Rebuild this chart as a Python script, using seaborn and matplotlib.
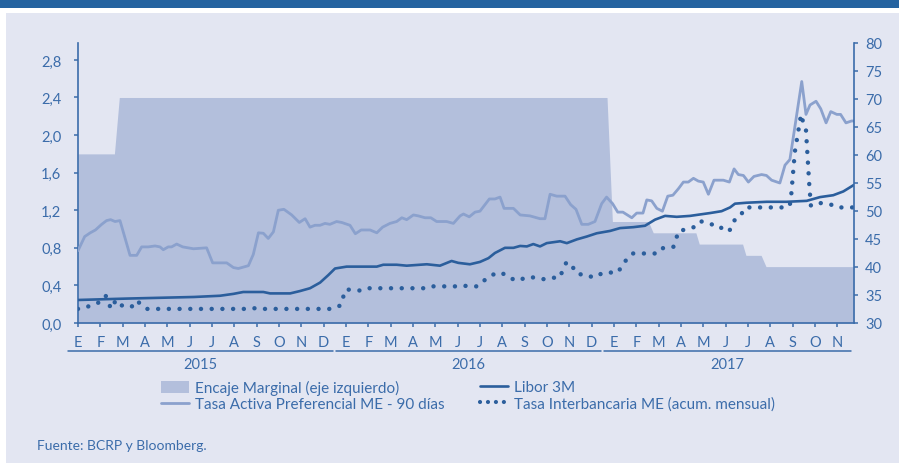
import numpy as np
import matplotlib
matplotlib.use("Agg")
import matplotlib.pyplot as plt
import matplotlib.transforms as mtransforms
from matplotlib.patches import Rectangle, Patch
from matplotlib.lines import Line2D
import seaborn as sns

# Time axis: months elapsed since 1 Jan 2015 (E 2015 = 0, E 2016 = 12, ...)
month_letters = ["E", "F", "M", "A", "M", "J", "J", "A", "S", "O", "N", "D"]
years = ["2015", "2016", "2017"]

# Encaje marginal (%), left axis
enc_m = [0, 1.63, 1.85, 23.69, 23.93, 25.54, 25.76, 27.67, 27.82, 29.76, 29.91, 30.59, 30.81, 34.75]
enc_v = [1.80, 1.80, 2.40, 2.40, 1.08, 1.08, 0.96, 0.96, 0.84, 0.84, 0.72, 0.72, 0.60, 0.60]

# Tasa activa preferencial ME - 90 dias (%)
ta_m = [0.0, 0.3, 0.55, 0.78, 1.06, 1.28, 1.46, 1.66, 1.88, 2.33, 2.63, 2.85, 3.15, 3.45, 3.67,
        3.82, 4.04, 4.19, 4.42, 4.69, 5.17, 5.76, 6.03, 6.66, 6.96, 7.18, 7.63, 7.85, 8.08, 8.30,
        8.52, 8.75, 8.97, 9.22, 9.57, 9.91, 10.17, 10.39, 10.61, 10.84, 11.06, 11.28, 11.58, 11.81,
        12.18, 12.42, 12.68, 13.08, 13.38, 13.64, 13.97, 14.27, 14.50, 14.72, 15.02, 15.24, 15.54,
        15.80, 16.06, 16.51, 16.81, 17.11, 17.26, 17.52, 17.78, 18.00, 18.42, 18.67, 18.90, 19.08,
        19.50, 19.80, 20.24, 20.69, 20.91, 21.14, 21.44, 21.81, 22.06, 22.30, 22.56, 22.85, 23.15,
        23.45, 23.67, 23.94, 24.17, 24.40, 24.80, 25.02, 25.30, 25.47, 25.69, 25.92, 26.17, 26.41,
        26.64, 26.89, 27.11, 27.33, 27.56, 27.78, 28.00, 28.23, 28.48, 28.90, 29.17, 29.38, 29.57,
        29.80, 30.02, 30.27, 30.61, 30.83, 31.06, 31.43, 31.66, 31.88, 32.41, 32.60, 32.78, 33.05,
        33.26, 33.50, 33.71, 33.98, 34.15, 34.39, 34.64, 34.75]
ta_v = [0.77, 0.92, 0.96, 0.99, 1.05, 1.09, 1.10, 1.08, 1.09, 0.72, 0.72, 0.81, 0.81, 0.82, 0.81,
        0.78, 0.81, 0.81, 0.84, 0.81, 0.79, 0.80, 0.64, 0.64, 0.59, 0.58, 0.61, 0.73, 0.96, 0.955,
        0.90, 0.97, 1.20, 1.21, 1.15, 1.07, 1.11, 1.02, 1.04, 1.04, 1.06, 1.05, 1.08, 1.07,
        1.04, 0.95, 0.99, 0.99, 0.96, 1.02, 1.06, 1.08, 1.12, 1.10, 1.15, 1.14, 1.12,
        1.12, 1.08, 1.08, 1.06, 1.14, 1.16, 1.13, 1.18, 1.19, 1.32, 1.32, 1.34, 1.22,
        1.22, 1.15, 1.14, 1.11, 1.11, 1.37, 1.35, 1.35, 1.26, 1.21, 1.05, 1.05, 1.08,
        1.27, 1.34, 1.27, 1.18, 1.18, 1.12, 1.17, 1.17, 1.31, 1.30, 1.22, 1.19, 1.35,
        1.36, 1.43, 1.50, 1.50, 1.54, 1.51, 1.50, 1.37, 1.52, 1.52, 1.50, 1.64, 1.58,
        1.57, 1.50, 1.56, 1.58, 1.57, 1.52, 1.49, 1.68, 1.74, 2.57, 2.22, 2.32, 2.36,
        2.28, 2.13, 2.25, 2.22, 2.22, 2.13, 2.15, 2.15]

# Libor 3M (%)
lb_m = [0, 2.2, 5.2, 6.36, 6.96, 7.4, 8.3, 8.6, 9.5, 9.94, 10.39, 10.84, 11.21, 11.51, 12.03,
        13.38, 13.67, 14.27, 14.72, 15.62, 16.21, 16.73, 17.03, 17.55, 18.0, 18.38, 18.67, 19.12,
        19.5, 19.8, 20.1, 20.39, 20.69, 20.99, 21.59, 21.89, 22.34, 22.78, 23.23, 23.83, 24.27,
        24.87, 25.39, 25.84, 26.29, 26.81, 27.41, 27.85, 28.3, 28.82, 29.2, 29.42, 29.94, 30.84,
        31.73, 32.63, 33.23, 33.82, 34.27, 34.75]
lb_v = [0.245, 0.26, 0.277, 0.29, 0.31, 0.33, 0.33, 0.315, 0.315, 0.34, 0.37, 0.43, 0.51, 0.58, 0.60,
        0.60, 0.62, 0.62, 0.61, 0.625, 0.61, 0.66, 0.64, 0.625, 0.65, 0.69, 0.745, 0.80,
        0.80, 0.82, 0.815, 0.84, 0.815, 0.85, 0.87, 0.85, 0.89, 0.92, 0.955, 0.98, 1.01,
        1.02, 1.035, 1.10, 1.14, 1.13, 1.14, 1.155, 1.17, 1.19, 1.23, 1.27, 1.28, 1.29,
        1.29, 1.30, 1.34, 1.36, 1.40, 1.47]

# Tasa interbancaria ME, acumulada mensual (%)
ib_m = [0.0, 0.33, 0.57, 0.79, 1.01, 1.24, 1.36, 1.48, 1.70, 1.93, 2.15, 2.39, 2.63, 2.85, 3.07,
        7.8, 7.95, 8.2, 8.35, 11.4, 11.78, 11.88, 12.0, 12.25, 12.7, 12.93, 15.7, 15.91, 17.0,
        17.2, 17.5, 17.9, 18.18, 18.42, 18.87, 19.08, 19.35, 19.76, 20.02, 20.47, 20.69, 20.96,
        21.17, 21.59, 21.71, 21.86, 22.06, 22.3, 22.56, 22.78, 23.0, 23.23, 23.45, 23.67, 23.94,
        24.2, 24.38, 24.6, 24.82, 25.98, 26.21, 26.66, 26.78, 26.89, 27.11, 27.33, 27.59, 27.81,
        28.03, 28.27, 28.48, 28.7, 28.93, 29.17, 29.38, 29.61, 29.76, 29.88, 31.8, 31.91, 32.1,
        32.38, 32.48, 32.6, 32.75, 32.82, 33.08, 33.53, 33.72, 33.98, 34.75]
ib_v = [0.15, 0.16, 0.19, 0.20, 0.23, 0.29, 0.22, 0.15, 0.245, 0.19, 0.17, 0.17, 0.24, 0.19, 0.15,
        0.15, 0.16, 0.16, 0.15, 0.15, 0.19, 0.28, 0.36, 0.35, 0.345, 0.37, 0.37, 0.39, 0.39,
        0.40, 0.39, 0.39, 0.45, 0.50, 0.54, 0.52, 0.475, 0.45, 0.485, 0.485, 0.47, 0.465,
        0.48, 0.485, 0.57, 0.64, 0.64, 0.53, 0.515, 0.515, 0.49, 0.49, 0.53, 0.53, 0.54,
        0.54, 0.63, 0.68, 0.74, 0.74, 0.80, 0.81, 0.89, 0.98, 0.99, 1.01, 1.02, 1.08,
        1.08, 1.06, 1.04, 1.04, 0.98, 0.98, 1.09, 1.12, 1.18, 1.23, 1.23, 1.28, 1.82,
        2.22, 2.13, 2.05, 1.46, 1.25, 1.28, 1.27, 1.26, 1.23, 1.23]

left_ticks = [0.0, 0.4, 0.8, 1.2, 1.6, 2.0, 2.4, 2.8]
right_ticks = [30, 35, 40, 45, 50, 55, 60, 65, 70, 75, 80]

labels = {
    "enc": "Encaje Marginal (eje izquierdo)",
    "ta": "Tasa Activa Preferencial ME - 90 días",
    "lb": "Libor 3M",
    "ib": "Tasa Interbancaria ME (acum. mensual)",
}

BG = "#e3e6f2"
TXT = "#3b6caa"
AREA = "#b3bfdc"
LIGHT = "#8ba1cd"
DARK = "#2b5e9c"
DOTS = (0, (0.01, 2.4))
LEG_DOTS = (0, (0.01, 1.9))

sns.set_theme(style="white")
plt.rcParams["font.family"] = ["Lato", "DejaVu Sans"]

W, H = 899, 464
fig = plt.figure(figsize=(W / 100, H / 100), dpi=100)
fig.patch.set_facecolor(BG)
fig.add_artist(Rectangle((0, 0), 6 / W, 1, transform=fig.transFigure, color="white", lw=0))
fig.add_artist(Rectangle((0, 1 - 14 / H), 1, 14 / H, transform=fig.transFigure, color="white", lw=0))
fig.add_artist(Rectangle((0, 1 - 9 / H), 1, 9 / H, transform=fig.transFigure, color="#2563a0", lw=0))

ax = fig.add_axes([78 / W, 1 - 324 / H, (854 - 78) / W, 280 / H])
ax.set_facecolor("none")

ax.fill_between(enc_m, 0, enc_v, color=AREA, lw=0, zorder=1)
sns.lineplot(x=ta_m, y=ta_v, ax=ax, color=LIGHT, lw=2.0, sort=False, estimator=None, zorder=3)
sns.lineplot(x=lb_m, y=lb_v, ax=ax, color=DARK, lw=1.9, sort=False, estimator=None, zorder=4)
sns.lineplot(x=ib_m, y=ib_v, ax=ax, color=DARK, lw=3.2, sort=False, estimator=None, zorder=5,
             linestyle=DOTS, dash_capstyle="round")

n_months = 35
ax.set_xlim(0, 34.75)
ax.set_ylim(0, 2.98)
ax.set_xticks(range(n_months))
ax.set_xticklabels([month_letters[i % 12] for i in range(n_months)])
ax.set_yticks(left_ticks)
ax.set_yticklabels([f"{v:.1f}".replace(".", ",") for v in left_ticks])
ax.set_xlabel("")
ax.set_ylabel("")

for side in ("top", "right"):
    ax.spines[side].set_visible(False)
for side in ("left", "bottom"):
    ax.spines[side].set_color(TXT)
    ax.spines[side].set_linewidth(1.2)
ax.tick_params(axis="y", direction="out", length=3, width=1.1, color=TXT, labelcolor=TXT,
               labelsize=10.5, pad=9, left=True)
ax.tick_params(axis="x", direction="out", length=3, width=1.1, color=TXT, labelcolor=TXT,
               labelsize=10.5, pad=5.5, bottom=True)

ax2 = ax.twinx()
ax2.set_ylim(30, 80)
ax2.set_yticks(right_ticks)
for side in ("top", "left", "bottom"):
    ax2.spines[side].set_visible(False)
ax2.spines["right"].set_color(TXT)
ax2.spines["right"].set_linewidth(1.2)
ax2.tick_params(axis="y", direction="out", length=3, width=1.1, color=TXT, labelcolor=TXT,
                labelsize=10.5, pad=5, right=True)

# Year brackets under the month letters
trans = mtransforms.blended_transform_factory(ax.transData, ax.transAxes)
for i, yr in enumerate(years):
    x0 = 12 * i - 0.45
    x1 = min(12 * i + 11.42, 34.6)
    ax.plot([x0, x1], [-0.1, -0.1], transform=trans, clip_on=False, color=TXT, lw=1.1)
    ax.text((x0 + x1) / 2, -0.146, yr, transform=trans, ha="center", va="center",
            fontsize=10.5, color=TXT)

leg_kw = dict(loc="upper left", frameon=False, borderpad=0, borderaxespad=0,
              handlelength=1.8, handletextpad=0.4, labelspacing=0.12, fontsize=11,
              labelcolor=TXT, handleheight=0.85)
h1 = [Patch(facecolor=AREA, edgecolor="none"), Line2D([], [], color=LIGHT, lw=2.0)]
h2 = [Line2D([], [], color=DARK, lw=1.9),
      Line2D([], [], color=DARK, lw=3.0, linestyle=LEG_DOTS, dash_capstyle="round")]
fig.legend(h1, [labels["enc"], labels["ta"]], bbox_to_anchor=(161 / W, 1 - 381 / H), **leg_kw)
fig.legend(h2, [labels["lb"], labels["ib"]], bbox_to_anchor=(480 / W, 1 - 381 / H), **leg_kw)

fig.text(37 / W, 1 - 446 / H, "Fuente: BCRP y Bloomberg.", fontsize=10, color=TXT,
         ha="left", va="center")

fig.savefig("out.png", dpi=100, facecolor=fig.get_facecolor())
